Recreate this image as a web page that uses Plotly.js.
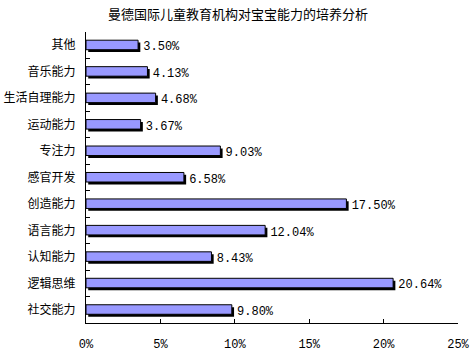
<!DOCTYPE html>
<html><head><meta charset="utf-8">
<script src="https://cdn.plot.ly/plotly-3.0.1.min.js"></script>
<style>html,body{margin:0;padding:0;background:#fff}</style>
</head><body><div id="chart" style="width:476px;height:352px"></div>
<script>
// bottom-to-top order
const categories = ['社交能力','逻辑思维','认知能力','语言能力','创造能力','感官开发','专注力','运动能力','生活自理能力','音乐能力','其他'];
const values = [9.80, 20.64, 8.43, 12.04, 17.50, 6.58, 9.03, 3.67, 4.68, 4.13, 3.50];
const labels = values.map(v => v.toFixed(2) + '%');

const cjk = '"Noto Sans CJK SC", sans-serif';
const mono = '"Liberation Mono", "DejaVu Sans Mono", monospace';

const shadow = {
  type: 'bar', orientation: 'h', y: categories, x: values,
  base: 0.15, width: 0.36, offset: -0.26,
  marker: {color: '#000000', line: {width: 0}},
  text: labels, textposition: 'outside', cliponaxis: false, constraintext: 'none',
  textfont: {family: mono, size: 12, color: '#000'},
  hoverinfo: 'skip'
};
const front = {
  type: 'bar', orientation: 'h', y: categories, x: values,
  width: 0.36, offset: -0.17,
  marker: {color: '#9999FF', line: {color: '#000000', width: 1}},
  hoverinfo: 'x+y'
};

const layout = {
  width: 476, height: 352,
  margin: {l: 86, r: 18, t: 32, b: 29},
  paper_bgcolor: '#fff', plot_bgcolor: '#fff',
  showlegend: false, barmode: 'overlay',
  title: {text: '曼德国际儿童教育机构对宝宝能力的培养分析',
    font: {family: cjk, size: 13, color: '#000'},
    x: 0.5, xanchor: 'center', y: 1 - 14/352, yref: 'container', yanchor: 'middle'},
  xaxis: {range: [0, 25], dtick: 5, tick0: 0, ticksuffix: '%',
    showgrid: false, zeroline: false, showline: true, linecolor: '#000', linewidth: 1,
    ticks: 'inside', ticklen: 4, tickcolor: '#000',
    ticklabelstandoff: 10,
    tickfont: {family: mono, size: 12, color: '#000'}, fixedrange: true},
  yaxis: {type: 'category', showgrid: false, zeroline: false,
    showline: true, linecolor: '#000', linewidth: 1,
    ticks: 'inside', ticklen: 4, tickcolor: '#000', tickson: 'boundaries',
    ticklabelstandoff: 7,
    tickfont: {family: cjk, size: 12, color: '#000'}, fixedrange: true}
};

Plotly.newPlot('chart', [shadow, front], layout, {displayModeBar: false, staticPlot: true});
</script></body></html>
